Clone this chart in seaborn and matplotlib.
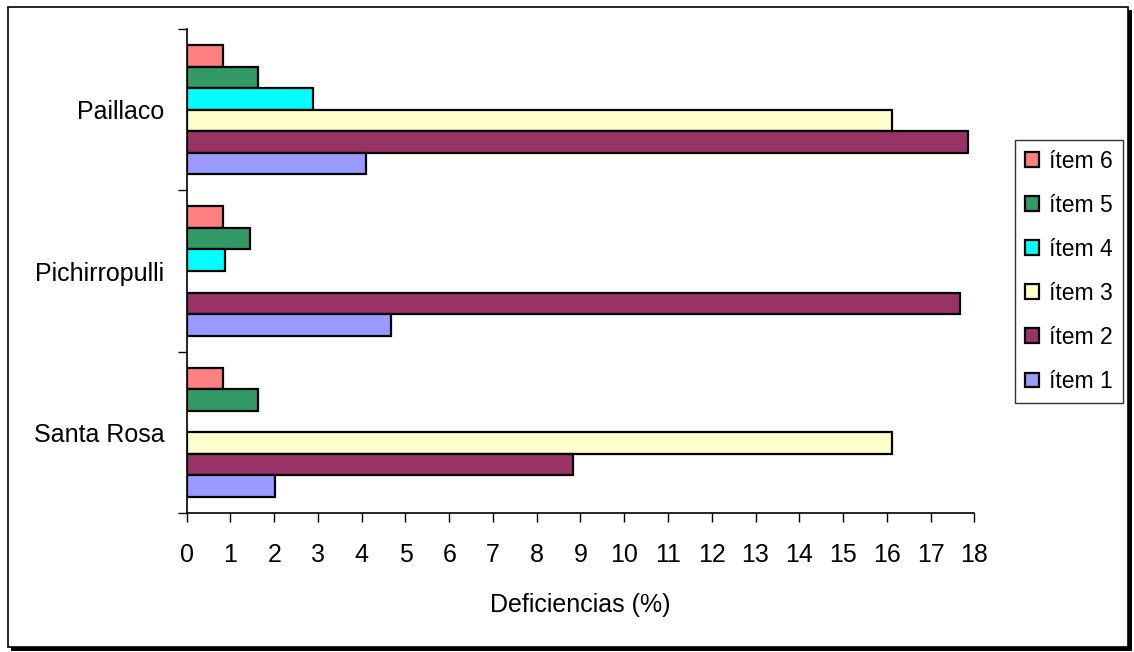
import matplotlib
matplotlib.use("Agg")
import matplotlib.pyplot as plt
from matplotlib.patches import Rectangle
from matplotlib.ticker import FixedLocator
import seaborn as sns
import pandas as pd

# Deficiency percentages per locality and item
localidades = ["Paillaco", "Pichirropulli", "Santa Rosa"]
items = ["ítem 6", "ítem 5", "ítem 4", "ítem 3", "ítem 2", "ítem 1"]

item_6 = [0.84, 0.84, 0.84]
item_5 = [1.64, 1.45, 1.64]
item_4 = [2.89, 0.88, 0.0]
item_3 = [16.12, 0.0, 16.12]
item_2 = [17.85, 17.67, 8.83]
item_1 = [4.10, 4.68, 2.02]

colores = {
    "ítem 6": "#FF8080",
    "ítem 5": "#339966",
    "ítem 4": "#00FFFF",
    "ítem 3": "#FFFFCC",
    "ítem 2": "#993366",
    "ítem 1": "#9999FF",
}

series = [item_6, item_5, item_4, item_3, item_2, item_1]
rows = []
for nombre, valores in zip(items, series):
    for loc, v in zip(localidades, valores):
        if v > 0:
            rows.append({"Localidad": loc, "Item": nombre, "Valor": v})
df = pd.DataFrame(rows)

sns.set_theme(style="white")
plt.rcParams["font.family"] = ["Liberation Sans", "DejaVu Sans"]
plt.rcParams["text.color"] = "black"
plt.rcParams["axes.labelcolor"] = "black"
plt.rcParams["xtick.color"] = "black"
plt.rcParams["ytick.color"] = "black"

W, H = 1134, 652
fig = plt.figure(figsize=(W / 100, H / 100), dpi=100)

# outer frame with a drop shadow, kept behind the axes
fig.patches.append(Rectangle((11 / W, 1 - 651 / H), 1121 / W, 641 / H,
                             transform=fig.transFigure, facecolor="black",
                             edgecolor="none", zorder=-10))
fig.patches.append(Rectangle((8 / W, 1 - 647 / H), 1120 / W, 640 / H,
                             transform=fig.transFigure, facecolor="white",
                             edgecolor="black", linewidth=1.2, zorder=-9))

ax = fig.add_axes([186.7 / W, 1 - 513 / H, (974.3 - 186.7) / W, (513 - 29) / H])
ax.set_facecolor("none")
ax.set_zorder(5)

sns.barplot(data=df, x="Valor", y="Localidad", hue="Item",
            order=localidades, hue_order=items, palette=colores,
            saturation=1, orient="h", width=0.8, dodge=True,
            edgecolor="black", linewidth=1.6, ax=ax, legend=True)

ax.set_xlim(0, 18)
ax.set_ylim(2.5, -0.5)
ax.set_xticks(range(0, 19))
ax.set_xticklabels([str(i) for i in range(0, 19)])
ax.set_xlabel("Deficiencias (%)", fontsize=18, labelpad=19)
ax.set_ylabel("")

for side in ["top", "right"]:
    ax.spines[side].set_visible(False)
for side in ["left", "bottom"]:
    ax.spines[side].set_color("black")
    ax.spines[side].set_linewidth(1.2)

ax.tick_params(axis="x", which="major", direction="out", length=6.5,
               width=1, color="black", labelsize=18, pad=15, bottom=True)
ax.tick_params(axis="y", which="major", length=0, labelsize=18, pad=16)
ax.yaxis.set_minor_locator(FixedLocator([-0.5, 0.5, 1.5, 2.5]))
ax.tick_params(axis="y", which="minor", direction="out", length=6.5,
               width=1, color="black", left=True)

handles, labels = ax.get_legend_handles_labels()
ax.get_legend().remove()
leg = fig.legend(handles, labels, loc="upper left",
                 bbox_to_anchor=(1015 / W, 1 - 140 / H),
                 bbox_transform=fig.transFigure,
                 fontsize=16.5, frameon=True, fancybox=False, shadow=False,
                 handlelength=0.62, handleheight=0.62, handletextpad=0.45,
                 labelspacing=0.92, borderpad=0.42, borderaxespad=0)
leg.get_frame().set_edgecolor("black")
leg.get_frame().set_linewidth(1.0)
leg.set_zorder(6)

fig.savefig("out.png", dpi=100)
